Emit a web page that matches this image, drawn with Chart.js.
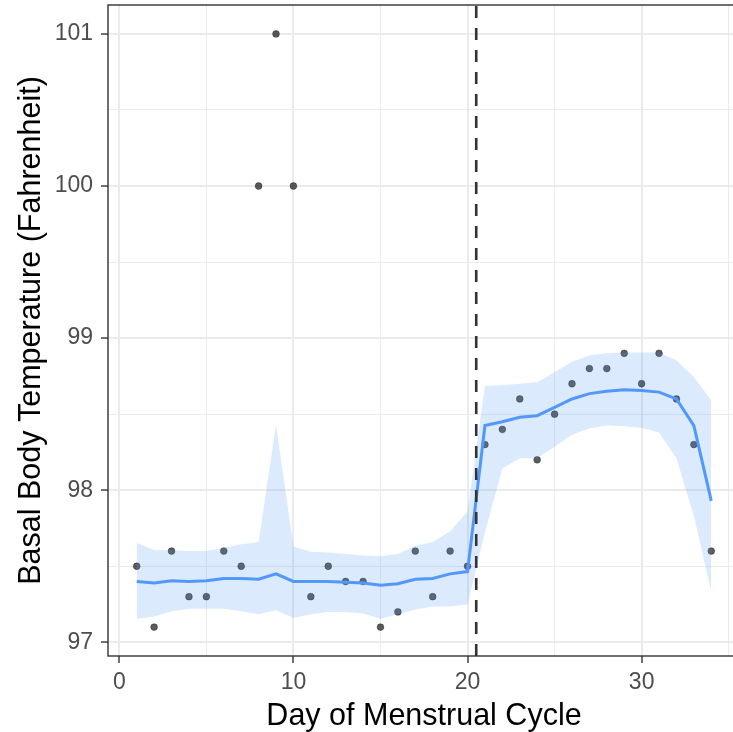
<!DOCTYPE html>
<html>
<head>
<meta charset="utf-8">
<style>
html,body{margin:0;padding:0;background:#fff;overflow:hidden;width:733px;height:732px}
canvas{display:block}
</style>
<script src="https://cdn.jsdelivr.net/npm/chart.js@4.4.1/dist/chart.umd.min.js"></script>
</head>
<body>
<canvas id="c" width="745" height="732" style="width:745px;height:732px"></canvas>
<script>
// ---- data ----
const days = [1,2,3,4,5,6,7,8,9,10,11,12,13,14,15,16,17,18,19,20,21,22,23,24,25,26,27,28,29,30,31,32,33,34];
const temps = [97.5,97.1,97.6,97.3,97.3,97.6,97.5,100,101,100,97.3,97.5,97.4,97.4,97.1,97.2,97.6,97.3,97.6,97.5,
               98.3,98.4,98.6,98.2,98.5,98.7,98.8,98.8,98.9,98.7,98.9,98.6,98.3,97.6];
const fitLine = [97.40,97.39,97.405,97.40,97.405,97.42,97.42,97.415,97.45,97.40,97.40,97.40,97.395,97.39,97.375,97.385,97.415,97.42,97.45,97.465,
                 98.425,98.45,98.48,98.49,98.545,98.60,98.635,98.65,98.66,98.655,98.645,98.60,98.425,97.93];
const bandUpper = [97.655,97.605,97.605,97.60,97.60,97.62,97.645,97.66,98.43,97.63,97.595,97.59,97.58,97.57,97.565,97.58,97.635,97.66,97.73,97.86,
                   98.685,98.69,98.70,98.71,98.775,98.845,98.885,98.90,98.905,98.905,98.905,98.855,98.745,98.59];
const bandLower = [97.155,97.17,97.205,97.22,97.22,97.22,97.205,97.185,97.21,97.16,97.185,97.20,97.20,97.19,97.155,97.185,97.215,97.235,97.235,97.25,
                   97.72,98.145,98.21,98.21,98.285,98.365,98.405,98.425,98.42,98.41,98.38,98.21,97.83,97.335];
const cutDay = 20.5;
const xMajorTicks = [0,10,20,30];
const xMinorTicks = [5,15,25,35];
const yMajorTicks = [97,98,99,100,101];
const yMinorTicks = [97.5,98.5,99.5,100.5];
const xRange = [-0.65, 35.65];
const yRange = [96.91, 101.19];

// ---- chart ----
const FONT = "'Liberation Sans', Arial, Helvetica, sans-serif";
const toXY = (xs, ys) => xs.map((x, i) => ({x: x, y: ys[i]}));
const isMajor = (list, c) => c && c.tick && list.includes(c.tick.value);

const panelBorder = {
  id: 'panelBorder',
  afterDatasetsDraw(chart) {
    const {ctx, chartArea: a} = chart;
    ctx.save();
    ctx.strokeStyle = '#333333';
    ctx.lineWidth = 1.4;
    ctx.strokeRect(a.left, a.top, a.right - a.left, a.bottom - a.top);
    ctx.restore();
  }
};

new Chart(document.getElementById('c'), {
  type: 'line',
  data: {
    datasets: [
      { label: 'cut', data: [{x: cutDay, y: yRange[0]}, {x: cutDay, y: yRange[1]}],
        borderColor: '#333333', borderWidth: 2.6, borderDash: [12, 10], pointRadius: 0, fill: false, tension: 0 },
      { label: 'fit', data: toXY(days, fitLine), borderColor: 'rgb(82,152,252)', borderWidth: 3,
        pointRadius: 0, fill: false, tension: 0 },
      { label: 'upper', data: toXY(days, bandUpper), borderColor: 'rgba(0,0,0,0)', borderWidth: 0,
        pointRadius: 0, fill: '+1', backgroundColor: 'rgba(80,150,250,0.2)', tension: 0 },
      { label: 'lower', data: toXY(days, bandLower), borderColor: 'rgba(0,0,0,0)', borderWidth: 0,
        pointRadius: 0, fill: false, tension: 0 },
      { label: 'temps', data: toXY(days, temps), showLine: false, pointRadius: 3.4,
        pointBackgroundColor: 'rgba(0,0,0,0.64)', pointBorderColor: 'rgba(0,0,0,0.35)', pointBorderWidth: 1 }
    ]
  },
  options: {
    responsive: false,
    animation: false,
    devicePixelRatio: 1,
    layout: { padding: { top: 5, right: 3.6, left: 0, bottom: 0 } },
    plugins: { legend: { display: false }, tooltip: { enabled: false } },
    scales: {
      x: {
        type: 'linear', min: xRange[0], max: xRange[1],
        afterBuildTicks: s => { s.ticks = xMajorTicks.concat(xMinorTicks).sort((a, b) => a - b).map(v => ({value: v})); },
        afterFit: s => { s.height = 76; s.paddingLeft = 0; s.paddingRight = 0; },
        border: { display: false },
        grid: {
          color: '#EBEBEB',
          lineWidth: c => isMajor(xMajorTicks, c) ? 2 : 1,
          tickColor: c => isMajor(xMajorTicks, c) ? '#333333' : 'rgba(0,0,0,0)',
          tickLength: 7, tickWidth: 1.4, drawTicks: true
        },
        ticks: {
          autoSkip: false, maxRotation: 0, padding: 6, color: '#4D4D4D',
          font: { family: FONT, size: 23 },
          callback: v => xMajorTicks.includes(v) ? String(v) : ''
        },
        title: { display: true, text: 'Day of Menstrual Cycle', color: '#000000',
                 font: { family: FONT, size: 30.5, lineHeight: 1.0 }, padding: { top: 0, bottom: 0 } }
      },
      y: {
        type: 'linear', min: yRange[0], max: yRange[1],
        afterBuildTicks: s => { s.ticks = yMajorTicks.concat(yMinorTicks).sort((a, b) => a - b).map(v => ({value: v})); },
        afterFit: s => { s.width = 108; s.paddingTop = 0; s.paddingBottom = 0; },
        border: { display: false },
        grid: {
          color: '#EBEBEB',
          lineWidth: c => isMajor(yMajorTicks, c) ? 2 : 1,
          tickColor: c => isMajor(yMajorTicks, c) ? '#333333' : 'rgba(0,0,0,0)',
          tickLength: 7, tickWidth: 1.4, drawTicks: true
        },
        ticks: {
          autoSkip: false, padding: 8, color: '#4D4D4D',
          font: { family: FONT, size: 23 },
          callback: v => yMajorTicks.includes(v) ? String(v) : ''
        },
        title: { display: true, text: 'Basal Body Temperature (Fahrenheit)', color: '#000000',
                 font: { family: FONT, size: 30.5 }, padding: { top: 13, bottom: 0 } }
      }
    }
  },
  plugins: [panelBorder]
});
</script>
</body>
</html>
